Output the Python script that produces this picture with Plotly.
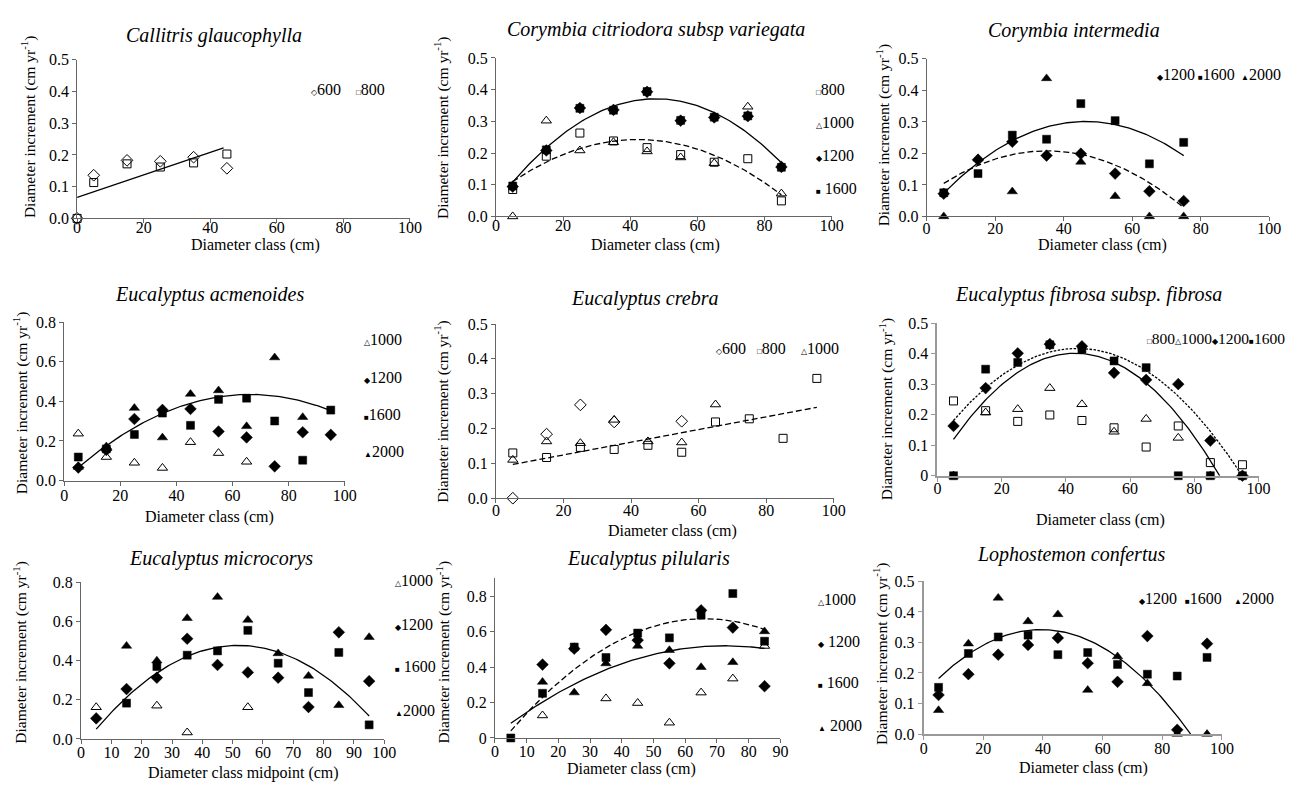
import numpy as np
import plotly.graph_objects as go

W, H = 1311, 791
SERIF = "Liberation Serif"

# ---------------- data ----------------
# Callitris glaucophylla
cg_x = [0, 5, 15, 25, 35, 45]
cg_600 = [0.0, 0.136, 0.183, 0.180, 0.193, 0.158]
cg_800 = [0.0, 0.113, 0.172, 0.162, 0.175, 0.203]
cg_fit = [0.066, 0.00355]            # intercept, slope
cg_fit_x = [0, 44]

# Corymbia citriodora subsp variegata
cc_x = [5, 15, 25, 35, 45, 55, 65, 75, 85]
cc_800 = [0.085, 0.190, 0.263, 0.238, 0.217, 0.195, 0.171, 0.182, 0.049]
cc_1000 = [0.0, 0.302, 0.208, 0.234, 0.205, 0.186, 0.168, 0.346, 0.072]
cc_1200 = [0.094, 0.208, 0.342, 0.336, 0.393, 0.302, 0.312, 0.316, 0.156]
cc_1600 = [0.096, 0.210, 0.341, 0.335, 0.394, 0.303, 0.313, 0.317, 0.155]
cc_fit_solid = [0.04268, 0.013788, -0.00014472]
cc_fit_dash = [0.07205, 0.008068, -0.00009548]
cc_fit_x = [5, 85]

# Corymbia intermedia
ci_x = [5, 15, 25, 35, 45, 55, 65, 75]
ci_1200 = [0.072, 0.180, 0.237, 0.193, 0.199, 0.136, 0.080, 0.049]
ci_1600 = [0.075, 0.136, 0.258, 0.245, 0.358, 0.304, 0.167, 0.235]
ci_2000 = [0.0, 0.183, 0.079, 0.438, 0.173, 0.064, 0.0, 0.0]
ci_fit_solid = [0.01579, 0.012305, -0.00013256]
ci_fit_dash = [0.067975, 0.007972, -0.0001134]
ci_fit_x = [5, 75]

# Eucalyptus acmenoides
ea_x = [5, 15, 25, 35, 45, 55, 65, 75, 85, 95]
ea_1000 = [0.237, 0.119, 0.090, 0.064, 0.194, 0.139, 0.095, None, None, None]
ea_1200 = [0.066, 0.155, 0.311, 0.357, 0.362, 0.248, 0.218, 0.072, 0.244, 0.231]
ea_1600 = [0.119, 0.160, 0.233, 0.341, 0.279, 0.410, 0.416, 0.301, 0.103, 0.356]
ea_2000 = [0.069, 0.172, 0.366, 0.217, 0.437, 0.455, 0.274, 0.621, 0.320, None]
ea_fit = [0.0031877, 0.0130558, -0.00009867]
ea_fit_x = [5, 95]

# Eucalyptus crebra
ec_x = [5, 15, 25, 35, 45, 55, 65, 75, 85, 95]
ec_600 = [0.0, 0.184, 0.268, 0.219, None, 0.221, None, None, None, None]
ec_800 = [0.130, 0.117, 0.146, 0.140, 0.152, 0.132, 0.219, 0.228, 0.172, 0.344]
ec_1000 = [0.110, 0.163, 0.158, 0.225, 0.163, 0.160, 0.269, None, None, None]
ec_fit = [0.0879, 0.001822]
ec_fit_x = [5, 95]

# Eucalyptus fibrosa subsp. fibrosa
ef_x = [5, 15, 25, 35, 45, 55, 65, 75, 85, 95]
ef_800 = [0.245, 0.213, 0.178, 0.199, 0.181, 0.157, 0.094, 0.163, 0.043, 0.036]
ef_1000 = [0.0, 0.207, 0.218, 0.287, 0.234, 0.144, 0.186, 0.124, 0.0, 0.0]
ef_1200 = [0.163, 0.287, 0.401, 0.431, 0.424, 0.337, 0.314, 0.300, 0.115, 0.0]
ef_1600 = [0.0, 0.349, 0.371, 0.429, 0.415, 0.376, 0.354, 0.0, 0.0, 0.0]
ef_fit_solid = [0.03945, 0.016896, -0.00019732]
ef_fit_solid_x = [5, 87.9]
ef_fit_dot = [0.11588, 0.013817, -0.00015846]
ef_fit_dot_x = [5, 94.9]

# Eucalyptus microcorys
em_x = [5, 15, 25, 35, 45, 55, 65, 75, 85, 95]
em_1000 = [0.162, None, 0.170, 0.033, None, 0.162, None, None, None, None]
em_1200 = [0.105, 0.255, 0.313, 0.512, 0.378, 0.340, 0.313, 0.163, 0.545, 0.295]
em_1600 = [None, 0.183, 0.370, 0.428, 0.450, 0.555, 0.387, 0.237, 0.442, 0.072]
em_2000 = [None, 0.475, 0.400, 0.617, 0.725, 0.608, 0.437, 0.322, 0.172, 0.520]
em_fit = [-0.04609, 0.02019, -0.00019446]
em_fit_x = [5, 95]

# Eucalyptus pilularis
ep_x = [5, 15, 25, 35, 45, 55, 65, 75, 85]
ep_1000 = [None, 0.127, None, 0.223, 0.197, 0.086, 0.256, 0.335, 0.519]
ep_1200 = [None, 0.414, 0.504, 0.610, 0.552, 0.421, 0.720, 0.623, 0.292]
ep_1600 = [0.0, 0.252, 0.513, 0.454, 0.592, 0.565, 0.693, 0.815, 0.546]
ep_2000 = [None, 0.316, 0.256, 0.420, 0.519, 0.495, 0.399, 0.427, 0.601]
ep_fit_solid = [0.01572, 0.0139375, -0.00009625]
ep_fit_dash = [-0.068, 0.02245, -0.00017]
ep_fit_x = [5, 85]

# Lophostemon confertus
lc_x = [5, 15, 25, 35, 45, 55, 65, 75, 85, 95]
lc_1200 = [0.128, 0.196, 0.260, 0.292, 0.315, 0.232, 0.171, 0.321, 0.014, 0.296]
lc_1600 = [0.153, 0.264, 0.318, 0.324, 0.260, 0.267, 0.228, 0.196, 0.190, 0.251]
lc_2000 = [0.078, 0.296, 0.446, 0.369, 0.392, 0.144, 0.254, 0.166, 0.0, 0.0]
lc_fit = [0.13198, 0.010683, -0.00013583]
lc_fit_x = [5, 89.5]

# ---------------- styling ----------------
SYM = {
    "od": ("diamond-open", 9, "◇"),
    "os": ("square-open", 8, "□"),
    "ot": ("triangle-up-open", 9, "△"),
    "fd": ("diamond", 9, "◆"),
    "fs": ("square", 8, "■"),
    "ft": ("triangle-up", 9, "▲"),
}
DASH = {"solid": "solid", "dash": "6px,3px", "dot": "2.5px,1.5px"}
XT = "Diameter class (cm)"
YT = "Diameter increment (cm yr<sup>-1</sup>)"

panels = [
    dict(title="Callitris glaucophylla", tpos=(213, 28),
         xpx=(74, 411), ypx=(53, 215), xr=[0, 100], yr=[0, 0.5], dx=20, dy=0.1, yfmt=".1f",
         ac="#666", aw=1, so=-10,
         series=[(cg_x, cg_600, "od"), (cg_x, cg_800, "os")],
         fits=[(cg_fit, cg_fit_x, "solid")],
         xt=(XT, 255, 242), yt=(25, 121),
         legend=[(309, 83, "od", "600"), (354, 83, "os", "800")]),
    dict(title="Corymbia citriodora subsp variegata", tpos=(660, 22),
         xpx=(498, 838), ypx=(51, 213), xr=[0, 100], yr=[0, 0.5], dx=20, dy=0.1, yfmt=".1f",
         ac="#666", aw=1, so=-10,
         series=[(cc_x, cc_800, "os"), (cc_x, cc_1000, "ot"), (cc_x, cc_1200, "fd"), (cc_x, cc_1600, "fs")],
         fits=[(cc_fit_solid, cc_fit_x, "solid"), (cc_fit_dash, cc_fit_x, "dash")],
         xt=(XT, 660, 242), yt=(443, 122),
         legend=[(820, 83, "os", "800"), (820, 117, "ot", "1000"), (820, 151, "fd", "1200"),
                 (820, 184, "fs", " 1600")]),
    dict(title="Corymbia intermedia", tpos=(1083, 23),
         xpx=(934, 1281), ypx=(52, 213), xr=[0, 100], yr=[0, 0.5], dx=20, dy=0.1, yfmt=".1f",
         ac="#666", aw=1, so=-7,
         series=[(ci_x, ci_1200, "fd"), (ci_x, ci_1600, "fs"), (ci_x, ci_2000, "ft")],
         fits=[(ci_fit_solid, ci_fit_x, "solid"), (ci_fit_dash, ci_fit_x, "dash")],
         xt=(XT, 1112, 242), yt=(890, 130),
         legend=[(1165, 68, "fd", "1200"), (1207, 68, "fs", "1600"), (1250, 68, "ft", "2000")]),
    dict(title="Eucalyptus acmenoides", tpos=(208, 293),
         xpx=(61, 345), ypx=(321, 483), xr=[0, 100], yr=[0, 0.8], dx=20, dy=0.2, yfmt=".1f",
         ac="#666", aw=1, so=-4,
         series=[(ea_x, ea_1000, "ot"), (ea_x, ea_1200, "fd"), (ea_x, ea_1600, "fs"), (ea_x, ea_2000, "ft")],
         fits=[(ea_fit, ea_fit_x, "solid")],
         xt=(XT, 208, 520), yt=(17, 403),
         legend=[(362, 339, "ot", "1000"), (362, 378, "fd", "1200"), (362, 415, "fs", "1600"),
                 (362, 453, "ft", "2000")]),
    dict(title="Eucalyptus crebra", tpos=(648, 297),
         xpx=(498, 840), ypx=(323, 501), xr=[0, 100], yr=[0, 0.5], dx=20, dy=0.1, yfmt=".1f",
         ac="#666", aw=1, so=-6,
         series=[(ec_x, ec_600, "od"), (ec_x, ec_800, "os"), (ec_x, ec_1000, "ot")],
         fits=[(ec_fit, ec_fit_x, "dash")],
         xt=(XT, 677, 534), yt=(443, 412),
         legend=[(719, 348, "od", "600"), (760, 348, "os", "800"), (805, 348, "ot", "1000")]),
    dict(title="Eucalyptus fibrosa subsp. fibrosa", tpos=(1098, 293),
         xpx=(945, 1270), ypx=(322, 478), xr=[0, 100], yr=[0, 0.5], dx=20, dy=0.1, yfmt="",
         ac="#999", aw=2, so=-7,
         series=[(ef_x, ef_800, "os"), (ef_x, ef_1000, "ot"), (ef_x, ef_1200, "fd"), (ef_x, ef_1600, "fs")],
         fits=[(ef_fit_solid, ef_fit_solid_x, "solid"), (ef_fit_dot, ef_fit_dot_x, "dot")],
         xt=(XT, 1110, 523), yt=(893, 410),
         legend=[(1155, 338, ["os", "ot", "fd", "fs"], ["800", "1000", "1200", "1600"])]),
    dict(title="Eucalyptus microcorys", tpos=(220, 563),
         xpx=(78, 385), ypx=(587, 747), xr=[0, 100], yr=[0, 0.8], dx=10, dy=0.2, yfmt=".1f",
         ac="#666", aw=1, so=-5,
         series=[(em_x, em_1000, "ot"), (em_x, em_1200, "fd"), (em_x, em_1600, "fs"), (em_x, em_2000, "ft")],
         fits=[(em_fit, em_fit_x, "solid")],
         xt=("Diameter class midpoint (cm)", 242, 782), yt=(17, 658),
         legend=[(394, 585, "ot", "1000"), (394, 630, "fd", "1200"), (394, 673, "fs", " 1600"),
                 (394, 718, "ft", "2000")]),
    dict(title="Eucalyptus pilularis", tpos=(652, 563),
         xpx=(497, 786), ypx=(583, 746), xr=[0, 90], yr=[0, 0.9], dx=10, dy=0.2, yfmt="",
         ac="#666", aw=1, so=-5,
         series=[(ep_x, ep_1000, "ot"), (ep_x, ep_1200, "fd"), (ep_x, ep_1600, "fs"), (ep_x, ep_2000, "ft")],
         fits=[(ep_fit_solid, ep_fit_x, "solid"), (ep_fit_dash, ep_fit_x, "dash")],
         xt=(XT, 635, 778), yt=(445, 658),
         legend=[(822, 605, "ot", "1000"), (822, 647, "fd", " 1200"), (822, 689, "fs", " 1600"),
                 (822, 733, "ft", " 2000")]),
    dict(title="Lophostemon confertus", tpos=(1080, 558),
         xpx=(931, 1233), ypx=(586, 742), xr=[0, 100], yr=[0, 0.5], dx=20, dy=0.1, yfmt=".1f",
         ac="#999", aw=2, so=-5,
         series=[(lc_x, lc_1200, "fd"), (lc_x, lc_1600, "fs"), (lc_x, lc_2000, "ft")],
         fits=[(lc_fit, lc_fit_x, "solid")],
         xt=(XT, 1093, 777), yt=(888, 660),
         legend=[(1147, 603, "fd", "1200"), (1194, 603, "fs", "1600"), (1243, 603, "ft", "2000")]),
]


def px(x):
    return x / W


def py(y):
    return 1 - y / H


def glyph_html(key):
    return f'<span style="font-size:8px">{SYM[key][2]}</span>'


fig = go.Figure()
annotations = []
layout = {}

for i, p in enumerate(panels, start=1):
    xa = "x" if i == 1 else f"x{i}"
    ya = "y" if i == 1 else f"y{i}"
    xkey = "xaxis" if i == 1 else f"xaxis{i}"
    ykey = "yaxis" if i == 1 else f"yaxis{i}"
    axstyle = dict(showline=True, linecolor=p["ac"], linewidth=p["aw"], ticks="outside",
                   ticklen=4, tickcolor=p["ac"], tickwidth=1, showgrid=False, zeroline=False,
                   tickfont=dict(family=SERIF, size=16, color="black"), fixedrange=True)
    layout[xkey] = dict(domain=[px(p["xpx"][0]), px(p["xpx"][1])], range=p["xr"],
                        tick0=0, dtick=p["dx"], anchor=ya, ticklabelstandoff=p["so"], **axstyle)
    layout[ykey] = dict(domain=[py(p["ypx"][1]), py(p["ypx"][0])], range=p["yr"],
                        tick0=0, dtick=p["dy"], tickformat=p["yfmt"], anchor=xa,
                        ticklabelstandoff=0, **axstyle)

    for xs, ys, key in p["series"]:
        sym, size, _ = SYM[key]
        fig.add_trace(go.Scatter(
            x=xs, y=ys, mode="markers", xaxis=xa, yaxis=ya, cliponaxis=False, showlegend=False,
            marker=dict(symbol=sym, size=size, color="black",
                        line=dict(color="black", width=1 if "open" in sym else 0.5))))

    for coef, rng, style in p["fits"]:
        xx = np.linspace(rng[0], rng[1], 120)
        yy = np.zeros_like(xx)
        for k, c in enumerate(coef):
            yy = yy + c * xx ** k
        fig.add_trace(go.Scatter(x=xx, y=yy, mode="lines", xaxis=xa, yaxis=ya, showlegend=False,
                                 line=dict(color="black", width=1.3, dash=DASH[style])))

    annotations.append(dict(text=f"<i>{p['title']}</i>", x=px(p["tpos"][0]), y=py(p["tpos"][1]),
                            xref="paper", yref="paper", showarrow=False, xanchor="center",
                            yanchor="middle", font=dict(family=SERIF, size=20, color="black")))
    t, tx, ty = p["xt"]
    annotations.append(dict(text=t, x=px(tx), y=py(ty), xref="paper", yref="paper", showarrow=False,
                            xanchor="center", yanchor="middle",
                            font=dict(family=SERIF, size=16, color="black")))
    annotations.append(dict(text=YT, x=px(p["yt"][0]), y=py(p["yt"][1]), xref="paper", yref="paper",
                            showarrow=False, textangle=-90, xanchor="center", yanchor="middle",
                            font=dict(family=SERIF, size=15.5, color="black")))
    for lx, ly, key, label in p["legend"]:
        if isinstance(key, list):
            text = "".join(glyph_html(k) + lab for k, lab in zip(key, label))
            fsz = 15.5
        else:
            text = glyph_html(key) + label
            fsz = 16
        annotations.append(dict(
            text=text, x=px(lx), y=py(ly), xref="paper", yref="paper", showarrow=False,
            xanchor="left", yanchor="middle", font=dict(family=SERIF, size=fsz, color="black")))

fig.update_layout(width=W, height=H, margin=dict(l=0, r=0, t=0, b=0),
                  paper_bgcolor="white", plot_bgcolor="white", showlegend=False,
                  annotations=annotations, **layout)

fig.write_html("out.html", config={"displayModeBar": False},
               post_script="document.body.style.margin='0';document.body.style.overflow='hidden';")
